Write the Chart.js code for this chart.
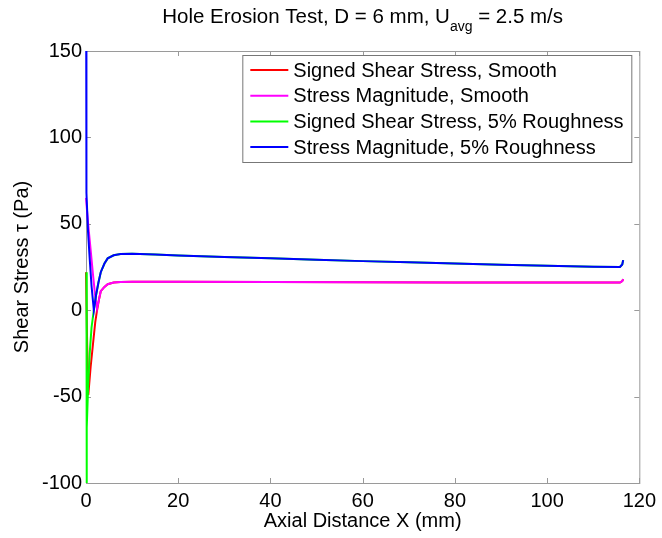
<!DOCTYPE html>
<html>
<head>
<meta charset="utf-8">
<script src="https://cdn.jsdelivr.net/npm/chart.js@4/dist/chart.umd.min.js"></script>
<style>
  html, body { margin: 0; padding: 0; background: #fff; }
  #shearChart { display: block; }
</style>
</head>
<body>
<canvas id="shearChart" width="662" height="538"></canvas>
<script>
/*
 * Wall shear stress along the hole, smooth wall vs 5% roughness
 */
const xTicks = [0, 20, 40, 60, 80, 100, 120];
const yTicks = [-100, -50, 0, 50, 100, 150];

// Smooth wall
const smoothSignedX = [0, 0.25, 0.5, 1.0, 1.5, 2.0, 2.4, 2.8, 3.2, 4.0, 4.7, 6, 7.5, 10, 20, 40, 60, 80, 100, 115.8, 116.3, 116.5];
const smoothSignedY = [22, -20, -49, -33, -20, -7, 0, 6, 11, 13.5, 15, 16, 16.3, 16.5, 16.4, 16.3, 16.2, 16.1, 16, 16, 16.8, 18];
const smoothMagX = [0, 0.3, 0.6, 1.0, 1.5, 2.0, 2.4, 2.8, 3.2, 4.0, 4.7, 6, 7.5, 10, 20, 40, 60, 80, 100, 115.8, 116.3, 116.5];
const smoothMagY = [65, 55, 46, 35, 21, 8, 1, 6, 11, 13.5, 15, 16, 16.3, 16.5, 16.4, 16.3, 16.2, 16.1, 16, 16, 16.8, 18];

// 5% roughness
const roughSignedX = [0.1, 0.12, 0.2, 0.45, 0.8, 1.2, 1.7, 2.2, 2.7, 3.2, 4.0, 4.7, 6, 7.5, 10, 15, 20, 30, 40, 50, 60, 70, 80, 90, 100, 110, 115.8, 116.3, 116.5];
const roughSignedY = [22, -100, -68, -45, -25, -10, 0, 9, 16, 22, 27, 30, 31.8, 32.5, 32.6, 32.2, 31.7, 30.8, 30, 29.2, 28.4, 27.7, 27, 26.3, 25.7, 25.2, 25, 26.5, 29];
const roughMagX = [0.05, 0.07, 0.12, 0.45, 0.8, 1.2, 1.7, 2.2, 2.7, 3.2, 4.0, 4.7, 6, 7.5, 10, 15, 20, 30, 40, 50, 60, 70, 80, 90, 100, 110, 115.8, 116.3, 116.5];
const roughMagY = [150, 124, 68, 45, 30, 14, 0, 9, 16, 22, 27, 30, 31.8, 32.5, 32.6, 32.2, 31.7, 30.8, 30, 29.2, 28.4, 27.7, 27, 26.3, 25.7, 25.2, 25, 26.5, 29];

const seriesLabels = [
    'Signed Shear Stress, Smooth',
    'Stress Magnitude, Smooth',
    'Signed Shear Stress, 5% Roughness',
    'Stress Magnitude, 5% Roughness'
];
const seriesColors = ['#ff0000', '#ff00ff', '#00ff00', '#0000ff'];

const FONT = "'Liberation Sans', Arial, sans-serif";
const FRAME_COLOR = '#9a9a9a';

function toPoints(xs, ys) {
    return xs.map((x, i) => ({x: x, y: ys[i]}));
}

function makeDataset(idx, xs, ys) {
    return {
        label: seriesLabels[idx],
        data: toPoints(xs, ys),
        borderColor: seriesColors[idx],
        backgroundColor: seriesColors[idx],
        borderWidth: 2,
        pointRadius: 0,
        tension: 0,
        fill: false,
        clip: 2,
        order: 4 - idx // later series drawn on top
    };
}

// Box round the axes with ticks pointing inwards (drawn under the lines)
const axesBox = {
    id: 'axesBox',
    beforeDatasetsDraw(chart) {
        const {ctx, chartArea: a, scales} = chart;
        const tickLen = 5;

        ctx.save();
        ctx.strokeStyle = FRAME_COLOR;
        ctx.lineWidth = 1;
        ctx.strokeRect(a.left + 0.5, a.top + 0.5, a.right - a.left, a.bottom - a.top);

        ctx.beginPath();
        scales.x.ticks.forEach(t => {
            const px = Math.round(scales.x.getPixelForValue(t.value)) + 0.5;
            ctx.moveTo(px, a.bottom);
            ctx.lineTo(px, a.bottom - tickLen);
            ctx.moveTo(px, a.top);
            ctx.lineTo(px, a.top + tickLen);
        });
        scales.y.ticks.forEach(t => {
            const py = Math.round(scales.y.getPixelForValue(t.value)) + 0.5;
            ctx.moveTo(a.left, py);
            ctx.lineTo(a.left + tickLen, py);
            ctx.moveTo(a.right, py);
            ctx.lineTo(a.right - tickLen, py);
        });
        ctx.stroke();
        ctx.restore();
    }
};

// Title with "avg" as subscript, and the boxed legend in the top right corner
const titleAndLegend = {
    id: 'titleAndLegend',
    afterDatasetsDraw(chart) {
        const {ctx, chartArea: a} = chart;
        ctx.save();

        const bigFont = '20.5px ' + FONT;
        const subFont = '14px ' + FONT;
        const part1 = 'Hole Erosion Test, D = 6 mm, U';
        const sub = 'avg';
        const part3 = ' = 2.5 m/s';
        ctx.fillStyle = '#000';
        ctx.textBaseline = 'alphabetic';
        ctx.textAlign = 'left';
        ctx.font = bigFont;
        const w1 = ctx.measureText(part1).width;
        const w3 = ctx.measureText(part3).width;
        ctx.font = subFont;
        const w2 = ctx.measureText(sub).width;
        let tx = (a.left + a.right) / 2 - (w1 + w2 + w3) / 2;
        const baseY = 23;
        ctx.font = bigFont;
        ctx.fillText(part1, tx, baseY);
        tx += w1;
        ctx.font = subFont;
        ctx.fillText(sub, tx, baseY + 8);
        tx += w2;
        ctx.font = bigFont;
        ctx.fillText(part3, tx, baseY);

        // legend
        const ds = chart.data.datasets;
        ctx.font = '20px ' + FONT;
        let maxW = 0;
        ds.forEach(d => { maxW = Math.max(maxW, ctx.measureText(d.label).width); });
        const boxW = Math.round(51 + maxW + 8);
        const boxH = 107;
        const boxR = a.right - 8;
        const boxL = boxR - boxW;
        const boxT = a.top + 4;
        ctx.fillStyle = '#fff';
        ctx.fillRect(boxL, boxT, boxW, boxH);
        ctx.strokeStyle = '#777';
        ctx.lineWidth = 1;
        ctx.strokeRect(boxL + 0.5, boxT + 0.5, boxW, boxH);
        ctx.textBaseline = 'middle';
        ds.forEach((d, i) => {
            const rowY = boxT + 15 + i * 25.7;
            ctx.strokeStyle = d.borderColor;
            ctx.lineWidth = 2;
            ctx.beginPath();
            ctx.moveTo(boxL + 8, rowY);
            ctx.lineTo(boxL + 46, rowY);
            ctx.stroke();
            ctx.fillStyle = '#000';
            ctx.fillText(d.label, boxL + 51, rowY + 1);
        });
        ctx.restore();
    }
};

const ctx = document.getElementById('shearChart');

new Chart(ctx, {
    type: 'line',
    data: {
        datasets: [
            makeDataset(0, smoothSignedX, smoothSignedY),
            makeDataset(1, smoothMagX, smoothMagY),
            makeDataset(2, roughSignedX, roughSignedY),
            makeDataset(3, roughMagX, roughMagY)
        ]
    },
    options: {
        responsive: false,
        animation: false,
        layout: {
            padding: {left: 0, right: 17, top: 51, bottom: 0}
        },
        plugins: {
            legend: {display: false},
            tooltip: {enabled: false}
        },
        scales: {
            x: {
                type: 'linear',
                min: 0,
                max: 120,
                afterBuildTicks: s => { s.ticks = xTicks.map(v => ({value: v})); },
                afterFit: s => { s.height = 55; },
                grid: {display: false, drawTicks: false},
                border: {display: false},
                ticks: {
                    color: '#000',
                    padding: 6,
                    maxRotation: 0,
                    font: {family: FONT, size: 20}
                },
                title: {
                    display: true,
                    text: 'Axial Distance X (mm)',
                    color: '#000',
                    padding: {top: 0, bottom: 5},
                    font: {family: FONT, size: 20}
                }
            },
            y: {
                type: 'linear',
                min: -100,
                max: 150,
                afterBuildTicks: s => { s.ticks = yTicks.map(v => ({value: v})); },
                afterFit: s => { s.width = 86; },
                grid: {display: false, drawTicks: false},
                border: {display: false},
                ticks: {
                    color: '#000',
                    padding: 4,
                    font: {family: FONT, size: 20}
                },
                title: {
                    display: true,
                    text: 'Shear Stress τ (Pa)',
                    color: '#000',
                    padding: {top: 10, bottom: 0},
                    font: {family: FONT, size: 20}
                }
            }
        }
    },
    plugins: [axesBox, titleAndLegend]
});
</script>
</body>
</html>
